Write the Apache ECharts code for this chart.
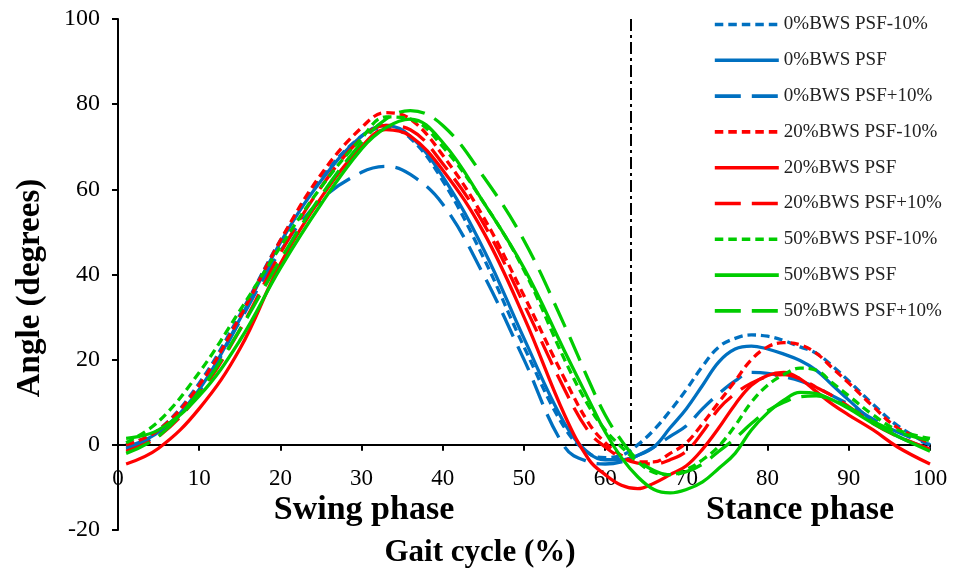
<!DOCTYPE html>
<html>
<head>
<meta charset="utf-8">
<script src="https://cdn.jsdelivr.net/npm/echarts@6/dist/echarts.min.js"></script>
<style>html,body{margin:0;padding:0;background:#fff;}#c{width:959px;height:578px;}</style>
</head>
<body>
<div id="c"></div>
<script>
// ---- data ----
const X = [1, 5, 10, 15, 20, 25, 30, 33, 36, 40, 45, 50, 55, 58, 60, 62, 64, 66, 68, 70, 72, 74, 76, 78, 80, 82, 84, 86, 88, 90, 93, 96, 100];

const bws0_minus = [0, 3.5, 14.5, 30.5, 48, 62.5, 72.5, 74.5, 72, 62, 44, 23, 4, -2, -3, -2.5, 0, 3.5, 8, 13, 18.5, 23, 25, 25.8, 25.5, 24.5, 23, 21.5, 18.5, 15, 9.5, 4.5, 0];
const bws0_psf   = [-0.5, 3, 13, 29.5, 47.5, 62, 72.5, 75, 72.5, 63, 46, 25, 5, -2, -3.5, -3.5, -2.5, -0.5, 4, 8.5, 14, 19.5, 22.5, 23.2, 22.5, 21.3, 19.8, 17.5, 14, 10.5, 5.5, 2, -1];
const bws0_plus  = [-1, 2.5, 12.5, 29, 45.5, 57.5, 64, 65.4, 63.5, 56.5, 40, 20, -0.5, -4, -4.5, -4, -2.5, -0.5, 2, 4.5, 8.5, 12, 15, 17, 16.8, 16, 15, 13.5, 11.5, 9.5, 6, 3, 0];

const bws20_minus = [0, 3.5, 14, 30, 48, 63.5, 74.5, 78, 76.5, 68, 53.5, 35, 15.5, 5, 0.5, -2.5, -4, -4, -2, 0.5, 5, 10, 15, 20, 23, 24, 23.5, 21.5, 18, 14.5, 9, 4, 0.5];
const bws20_psf   = [-4.5, -0.8, 8.5, 22.5, 42.5, 58, 70, 74, 72.5, 64.5, 50, 30, 7, -3.5, -7, -9.5, -10.3, -9, -7, -4.9, -1, 4, 9.5, 14, 16.3, 17, 15.5, 12.5, 9.5, 7, 3.5, -0.5, -4.5];
const bws20_plus  = [-1.5, 2, 12, 27, 45, 60.5, 72, 75, 74, 66, 52, 33, 13, 3, -0.5, -3, -4.3, -4.5, -3.5, -1.5, 3, 8.5, 12, 14.5, 16, 16.5, 15.5, 13.5, 11.5, 9, 5, 2, -1];

const bws50_minus = [0.5, 5.5, 17, 31.5, 46.5, 60.5, 72, 77, 76.5, 70, 57, 41, 20, 9, 3.5, -0.5, -4, -6.5, -7, -5.8, -3.5, -0.3, 4.5, 10, 14, 16.5, 18, 17.5, 14.5, 11.5, 7, 3.5, 1.5];
const bws50_psf   = [1.5, 3.5, 11.5, 24.5, 41.5, 56.5, 69.5, 74.5, 76.5, 71, 57, 41.5, 22, 10.5, 3, -3, -7.5, -10.5, -11.3, -10.5, -8.7, -5.5, -2, 3.5, 7.5, 10.5, 12.3, 12, 10.5, 8.5, 5, 2, -1.5];
const bws50_plus  = [-2, 2, 12.5, 27, 43.5, 58.5, 71, 76.5, 78.5, 75, 63, 48, 28, 15, 7, 1, -3.5, -6, -7, -6.3, -4.5, -1.5, 1.5, 5, 8, 10, 11.3, 11.5, 10.5, 8.8, 5.5, 3, 1];

const seriesNames = ['0%BWS PSF-10%', '0%BWS PSF', '0%BWS PSF+10%', '20%BWS PSF-10%', '20%BWS PSF', '20%BWS PSF+10%', '50%BWS PSF-10%', '50%BWS PSF', '50%BWS PSF+10%'];
const seriesValues = [bws0_minus, bws0_psf, bws0_plus, bws20_minus, bws20_psf, bws20_plus, bws50_minus, bws50_psf, bws50_plus];

const X_TICKS = [0, 10, 20, 30, 40, 50, 60, 70, 80, 90, 100];
const Y_TICKS = [-20, 0, 20, 40, 60, 80, 100];
const PHASE_SPLIT = 63.2;

// ---- styles ----
const COLORS = ['#0070C0', '#FF0000', '#00CC00'];
const DASHES = [[8.5, 5], 'solid', [26, 11]];
const FONT = 'Liberation Serif, Times New Roman, serif';
const GRID = { left: 118, right: 29, top: 19, bottom: 48 };
const PLOT_H = 578 - GRID.top - GRID.bottom;
const yMin = Y_TICKS[0], yMax = Y_TICKS[Y_TICKS.length - 1];
// move the x axis up so that it sits on y = 0
const X_AXIS_OFFSET = -PLOT_H * (0 - yMin) / (yMax - yMin);

const series = seriesNames.map((name, i) => ({
  name: name,
  type: 'line',
  data: X.map((x, k) => [x, seriesValues[i][k]]),
  smooth: 0.4,
  symbol: 'none',
  lineStyle: { color: COLORS[Math.floor(i / 3)], width: 3.3, type: DASHES[i % 3], cap: 'butt' },
  itemStyle: { color: COLORS[Math.floor(i / 3)] },
  z: 3
}));
series[0].markLine = {
  silent: true,
  symbol: ['none', 'none'],
  label: { show: false },
  lineStyle: { color: '#000', width: 2, type: [12, 4, 3, 4] },
  data: [[{ coord: [PHASE_SPLIT, 100] }, { coord: [PHASE_SPLIT, 0] }]]
};

const chart = echarts.init(document.getElementById('c'));
chart.setOption({
  animation: false,
  backgroundColor: '#fff',
  grid: GRID,
  xAxis: {
    type: 'value', min: X_TICKS[0], max: X_TICKS[X_TICKS.length - 1], interval: 10,
    offset: X_AXIS_OFFSET,
    axisLine: { onZero: false, lineStyle: { color: '#000', width: 2 } },
    axisTick: { show: true, length: 6, lineStyle: { color: '#000', width: 2 } },
    axisLabel: { color: '#000', fontFamily: FONT, fontSize: 23, margin: 23 },
    splitLine: { show: false }
  },
  yAxis: {
    type: 'value', min: yMin, max: yMax, interval: 20,
    axisLine: { show: true, onZero: false, lineStyle: { color: '#000', width: 2 } },
    axisTick: { show: true, length: 6, lineStyle: { color: '#000', width: 2 } },
    axisLabel: { color: '#000', fontFamily: FONT, fontSize: 24, margin: 18 },
    splitLine: { show: false }
  },
  legend: {
    data: seriesNames,
    orient: 'vertical',
    left: 708, top: 10,
    itemWidth: 64, itemHeight: 14, itemGap: 16.8,
    itemStyle: { opacity: 0 },
    lineStyle: { width: 3.6 },
    textStyle: { color: '#222', fontFamily: FONT, fontSize: 19 }
  },
  graphic: [
    { type: 'text', x: 30, y: 288, rotation: Math.PI / 2,
      style: { text: 'Angle (degrees)', font: 'bold 33px ' + FONT, fill: '#000', align: 'center', verticalAlign: 'middle' } },
    { type: 'text', x: 480, y: 553,
      style: { text: 'Gait cycle (%)', font: 'bold 31px ' + FONT, fill: '#000', align: 'center', verticalAlign: 'middle' } },
    { type: 'text', x: 364, y: 510,
      style: { text: 'Swing phase', font: 'bold 34px ' + FONT, fill: '#000', align: 'center', verticalAlign: 'middle' } },
    { type: 'text', x: 800, y: 510,
      style: { text: 'Stance phase', font: 'bold 34px ' + FONT, fill: '#000', align: 'center', verticalAlign: 'middle' } }
  ],
  series: series
});
</script>
</body>
</html>
